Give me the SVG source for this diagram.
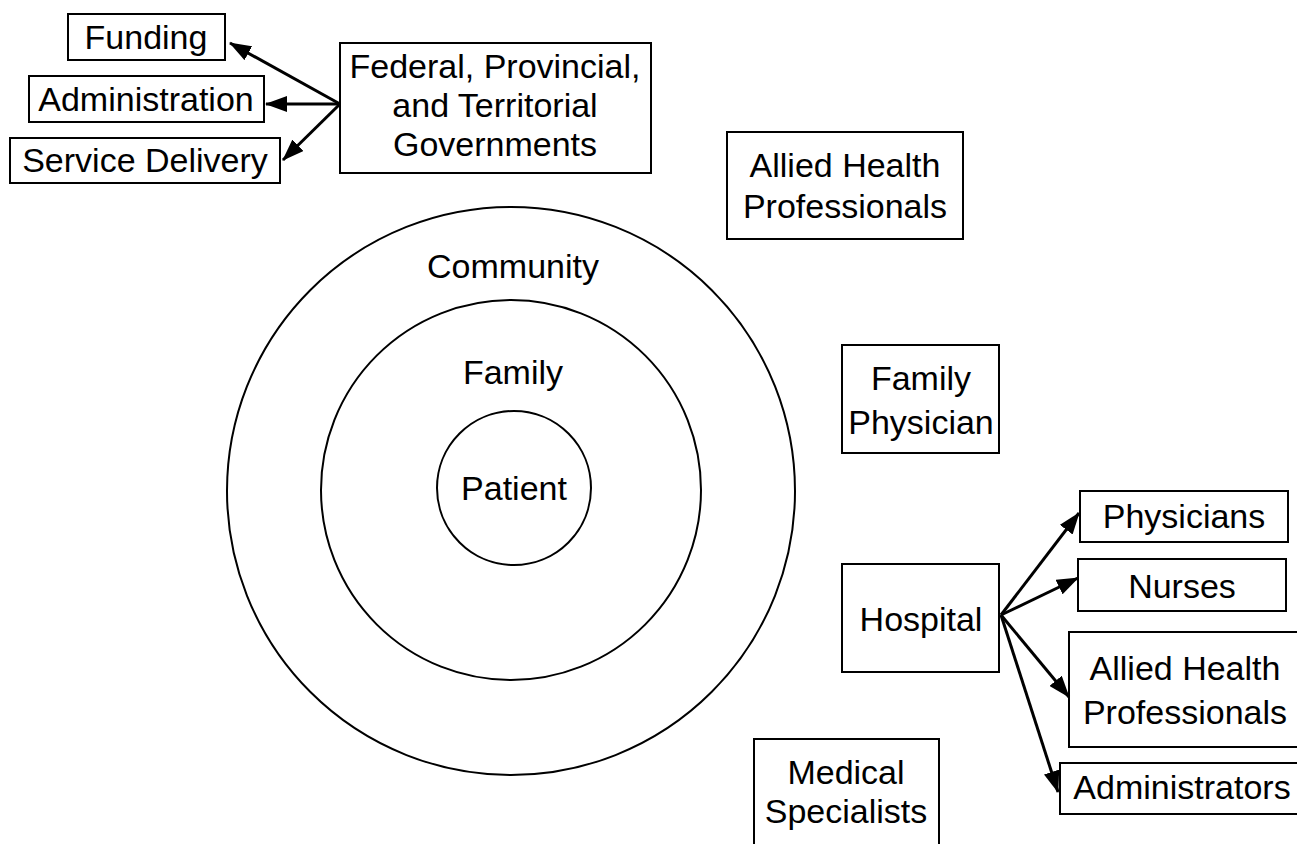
<svg xmlns="http://www.w3.org/2000/svg" width="1297" height="844" viewBox="0 0 1297 844">
<style>
.box{fill:#fff;stroke:#000;stroke-width:2}
.circ{fill:none;stroke:#000;stroke-width:2}
text{font-family:"Liberation Sans",Arial,sans-serif;font-size:34px;fill:#000;text-anchor:middle}
.conn line{stroke:#000;stroke-width:3;marker-end:url(#ah)}
</style>
<defs>
<marker id="ah" viewBox="0 0 22 16" markerWidth="22" markerHeight="16" refX="21" refY="8" orient="auto" markerUnits="userSpaceOnUse">
<path d="M0,0 L22,8 L0,16 z" fill="#000"/>
</marker>
</defs>
<rect width="1297" height="844" fill="#fff"/>
<g id="community"><circle class="circ" cx="511" cy="491" r="284"/><text x="513" y="278">Community</text></g>
<g id="family"><circle class="circ" cx="511" cy="490" r="190"/><text x="513" y="384">Family</text></g>
<g id="patient"><circle class="circ" cx="514" cy="488" r="77"/><text x="514" y="500">Patient</text></g>
<g id="funding"><rect class="box" x="68" y="14" width="157" height="46"/><text x="146" y="49">Funding</text></g>
<g id="administration"><rect class="box" x="29" y="76" width="235" height="46"/><text x="146" y="111">Administration</text></g>
<g id="service-delivery"><rect class="box" x="10" y="138" width="270" height="45"/><text x="145" y="172">Service Delivery</text></g>
<g id="governments"><rect class="box" x="340" y="43" width="311" height="130"/><text x="495" y="78">Federal, Provincial,</text><text x="495" y="117">and Territorial</text><text x="495" y="156">Governments</text></g>
<g id="allied-top"><rect class="box" x="727" y="132" width="236" height="107"/><text x="845" y="177">Allied Health</text><text x="845" y="218">Professionals</text></g>
<g id="family-physician"><rect class="box" x="842" y="345" width="157" height="108"/><text x="921" y="390">Family</text><text x="921" y="434">Physician</text></g>
<g id="hospital"><rect class="box" x="842" y="564" width="157" height="108"/><text x="921" y="631">Hospital</text></g>
<g id="physicians"><rect class="box" x="1080" y="491" width="208" height="51"/><text x="1184" y="528">Physicians</text></g>
<g id="nurses"><rect class="box" x="1078" y="559" width="208" height="52"/><text x="1182" y="598">Nurses</text></g>
<g id="allied-right"><rect class="box" x="1069" y="632" width="232" height="115"/><text x="1185" y="680">Allied Health</text><text x="1185" y="724">Professionals</text></g>
<g id="administrators"><rect class="box" x="1060" y="763" width="240" height="51"/><text x="1182" y="799">Administrators</text></g>
<g id="medical-specialists"><rect class="box" x="754" y="739" width="185" height="120"/><text x="846" y="784">Medical</text><text x="846" y="823">Specialists</text></g>
<g id="connectors" class="conn">
<line x1="340" y1="104" x2="230" y2="43"/>
<line x1="340" y1="104" x2="266" y2="104"/>
<line x1="340" y1="104" x2="283" y2="160"/>
<line x1="1001" y1="615" x2="1079" y2="513"/>
<line x1="1001" y1="615" x2="1078" y2="578"/>
<line x1="1001" y1="615" x2="1069" y2="697"/>
<line x1="1001" y1="615" x2="1058" y2="792"/>
</g>
</svg>
